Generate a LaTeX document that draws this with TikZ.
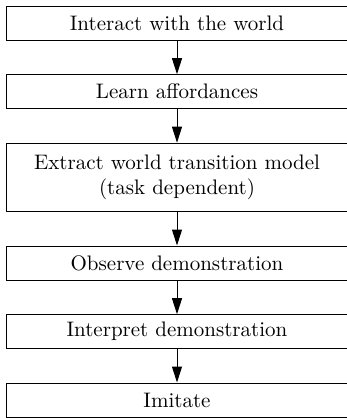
\documentclass[tikz,border=0pt]{standalone}
\usetikzlibrary{arrows.meta}
\begin{document}
\begin{tikzpicture}[x=0.5pt,y=-0.5pt,
  stepbox/.style={draw, line width=0.5pt, rectangle, minimum width=171pt, minimum height=17pt, inner sep=0pt, align=center, font=\fontsize{10.5}{12.6}\selectfont},
  flow/.style={draw, line width=0.5pt, -{Triangle[length=8pt,width=5pt]}}]
\useasboundingbox (0,0) rectangle (347,418);
\clip (0,0) rectangle (347,418);
\node[stepbox] (a) at (177,23.7) {Interact with the world};
\node[stepbox] (b) at (177,91.7) {Learn affordances};
\node[stepbox, minimum height=34pt] (c) at (177,177.2) {Extract world transition model\\(task dependent)};
\node[stepbox] (d) at (177,263) {Observe demonstration};
\node[stepbox] (e) at (177,331.7) {Interpret demonstration};
\node[stepbox] (f) at (177,400) {Imitate};
\draw[flow] (a) -- (b);
\draw[flow] (b) -- (c);
\draw[flow] (c) -- (d);
\draw[flow] (d) -- (e);
\draw[flow] (e) -- (f);
\end{tikzpicture}
\end{document}
